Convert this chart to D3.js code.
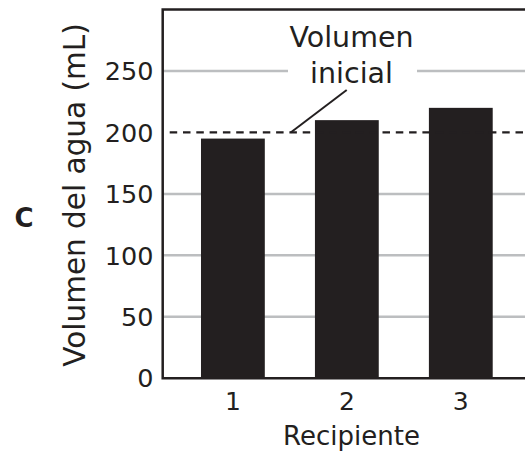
<!DOCTYPE html>
<html><head><meta charset="utf-8">
<script src="https://cdn.jsdelivr.net/npm/d3@7"></script>
<style>html,body{margin:0;padding:0;background:#fff}svg{display:block}</style>
</head><body>
<script>
const categories = ["1", "2", "3"];
const values = [195, 210, 220];
const yTicks = [0, 50, 100, 150, 200, 250];
const initialVolume = 200;
const yDomain = [0, 300];
const annotationLines = ["Volumen", "inicial"];
const yTitle = "Volumen del agua (mL)";
const xTitle = "Recipiente";
const panelLabel = "C";

const W = 525, H = 455;
const L = 162.7, T = 9.5, B = 378.3;
const ink = "#231f20", grid = "#bcbec0";
const font = "'DejaVu Sans', Verdana, sans-serif";

const svg = d3.select("body").append("svg").attr("width", W).attr("height", H);

const x = d3.scaleBand().domain(categories).range([L, 531]).paddingInner(0.44).paddingOuter(0.336);
const y = d3.scaleLinear().domain(yDomain).range([B, T]);

// gridlines
svg.append("g").selectAll("line").data(yTicks.filter(d => d > 0 && d !== initialVolume))
  .join("line")
  .attr("x1", L).attr("x2", W)
  .attr("y1", d => y(d)).attr("y2", d => y(d))
  .attr("stroke", grid).attr("stroke-width", 2.5);

// bars
svg.append("g").selectAll("rect").data(values).join("rect")
  .attr("x", (d, i) => x(categories[i]))
  .attr("width", x.bandwidth())
  .attr("y", d => y(d))
  .attr("height", d => y(0) - y(d))
  .attr("fill", ink);

// dashed initial volume line
svg.append("line")
  .attr("x1", L + 7).attr("x2", W)
  .attr("y1", y(initialVolume)).attr("y2", y(initialVolume))
  .attr("stroke", ink).attr("stroke-width", 2.2)
  .attr("stroke-dasharray", "7.5,5.8");

// annotation background breaking gridline at 250
svg.append("rect").attr("x", 288).attr("y", y(250) - 6).attr("width", 129).attr("height", 12).attr("fill", "#fff");

// leader line
svg.append("line")
  .attr("x1", 290.7).attr("y1", y(initialVolume))
  .attr("x2", 346.7).attr("y2", 90)
  .attr("stroke", ink).attr("stroke-width", 2);

svg.append("g").selectAll("text").data(annotationLines).join("text")
  .attr("x", 351.5).attr("y", (d, i) => 47.3 + i * 35.5)
  .attr("text-anchor", "middle")
  .attr("font-family", font).attr("font-size", 28.5).attr("fill", ink)
  .text(d => d);

// axes frame
svg.append("path")
  .attr("d", `M${W},${T}H${L}V${B}H${W}`)
  .attr("fill", "none").attr("stroke", ink).attr("stroke-width", 2.5);

// y tick labels
svg.append("g").selectAll("text").data(yTicks).join("text")
  .attr("x", 153.5).attr("y", d => y(d))
  .attr("dy", "0.36em")
  .attr("text-anchor", "end")
  .attr("font-family", font).attr("font-size", 25.5).attr("fill", ink)
  .text(d => d);

// x tick labels
svg.append("g").selectAll("text").data(categories).join("text")
  .attr("x", d => x(d) + x.bandwidth() / 2).attr("y", 410)
  .attr("text-anchor", "middle")
  .attr("font-family", font).attr("font-size", 25).attr("fill", ink)
  .text(d => d);

// axis titles
svg.append("text")
  .attr("x", 351.5).attr("y", 445)
  .attr("text-anchor", "middle")
  .attr("font-family", font).attr("font-size", 26).attr("fill", ink)
  .text(xTitle);

svg.append("text")
  .attr("transform", `translate(85,195) rotate(-90)`)
  .attr("text-anchor", "middle")
  .attr("font-family", font).attr("font-size", 29.5).attr("fill", ink)
  .text(yTitle);

svg.append("text")
  .attr("x", 24).attr("y", 226.7)
  .attr("text-anchor", "middle")
  .attr("font-family", font).attr("font-size", 26).attr("font-weight", "bold").attr("fill", ink)
  .text(panelLabel);
</script>
</body></html>
